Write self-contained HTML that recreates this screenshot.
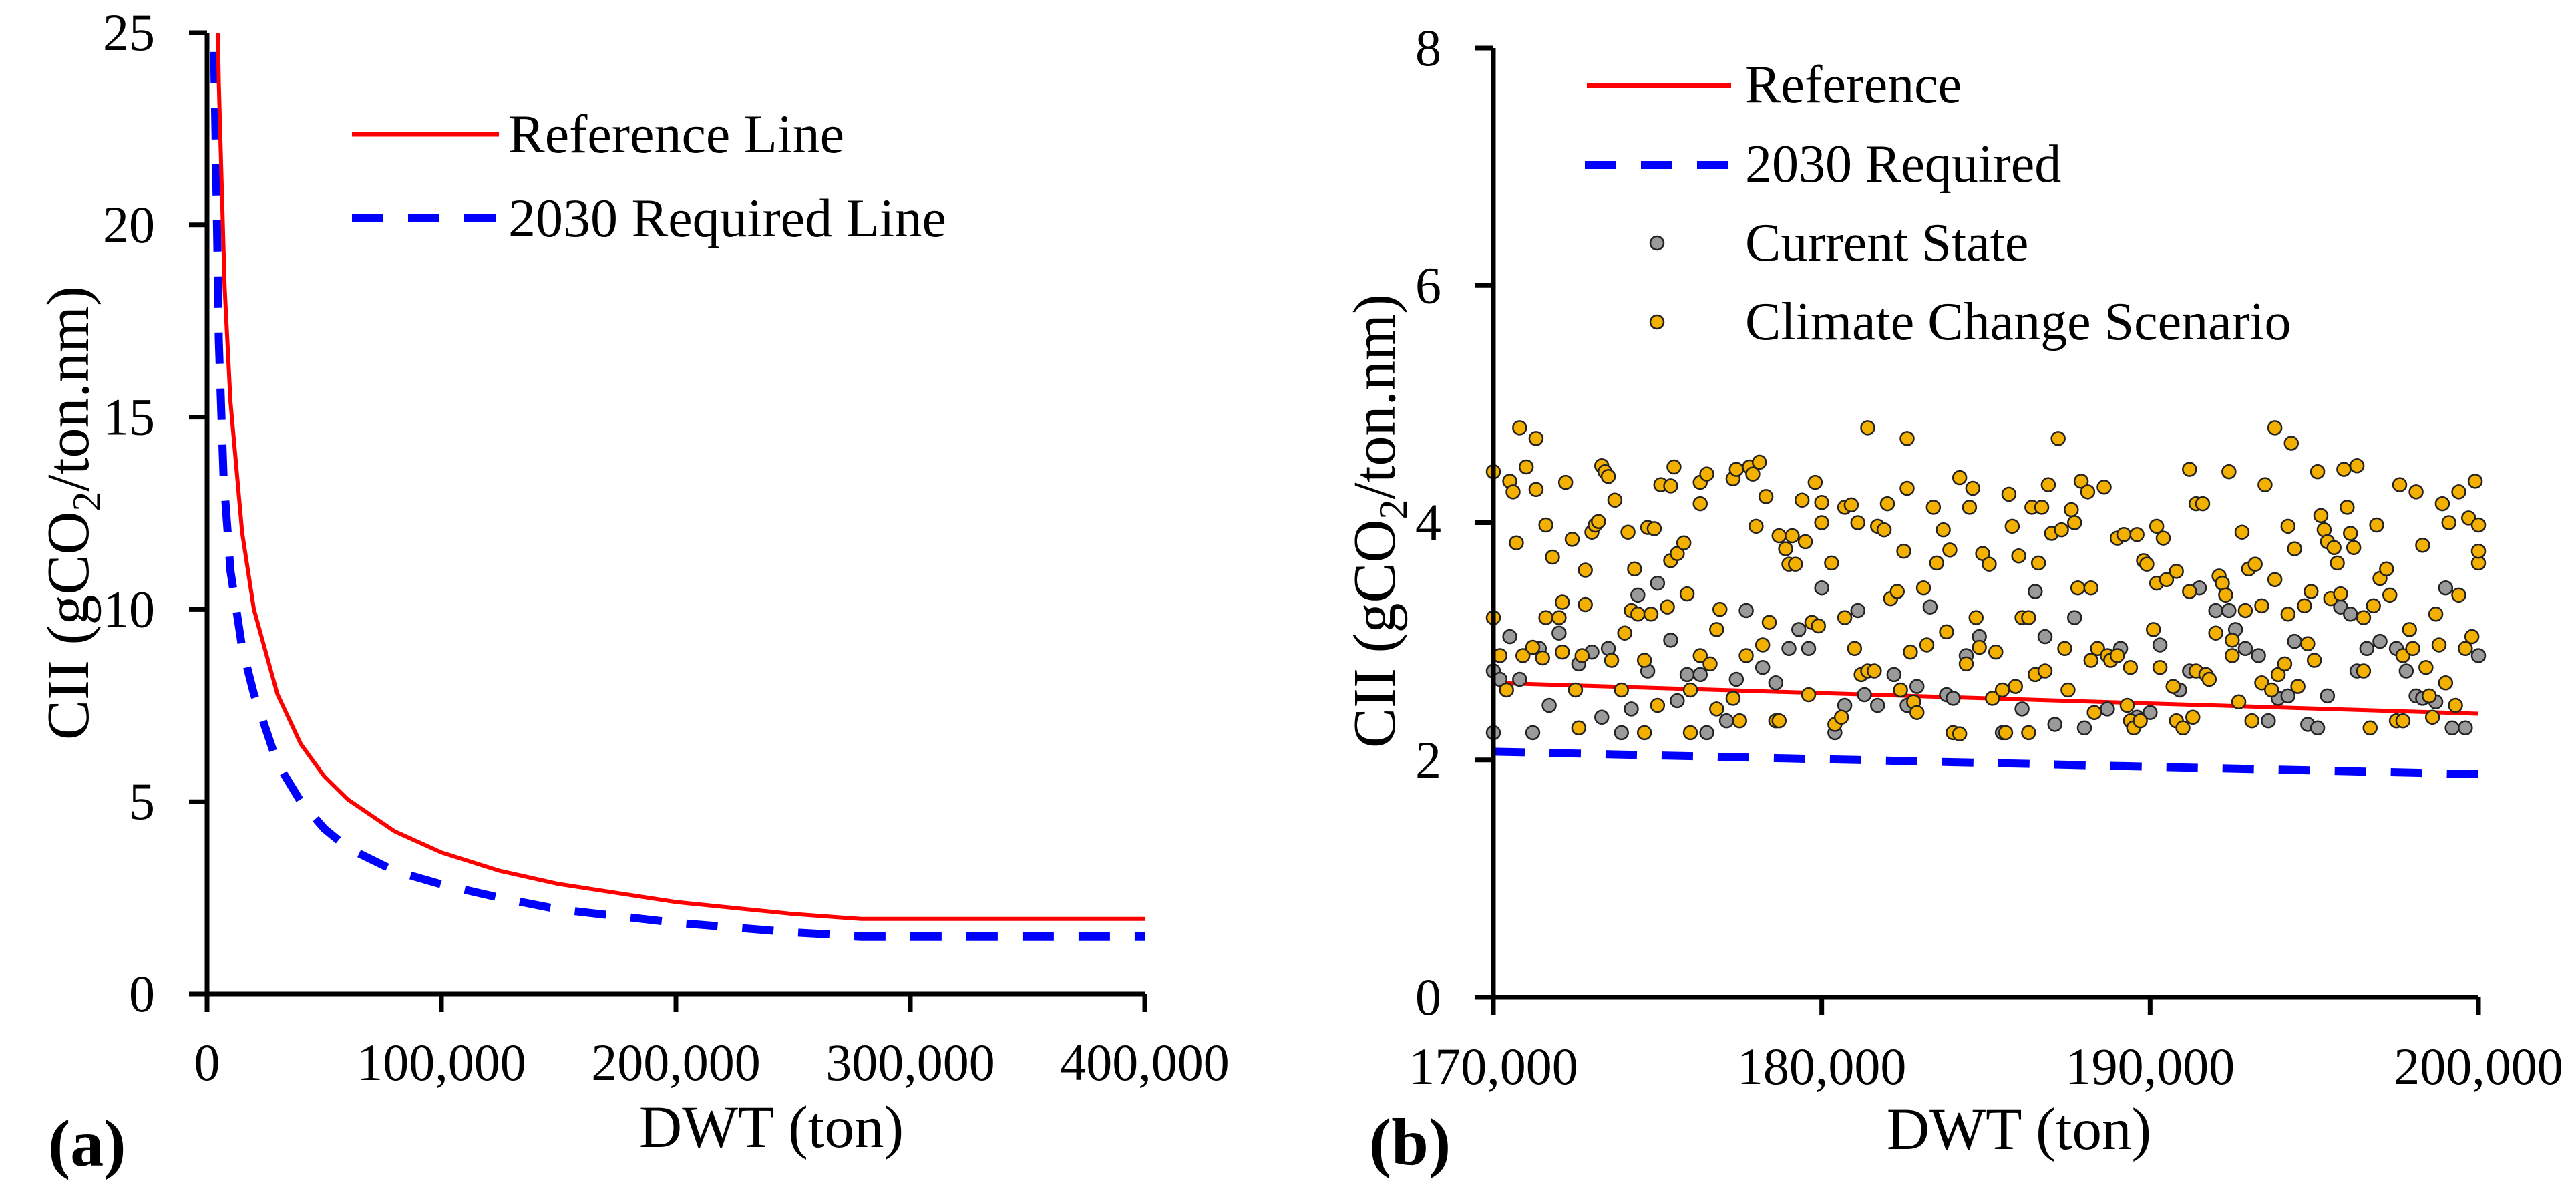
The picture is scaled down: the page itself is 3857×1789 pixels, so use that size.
<!DOCTYPE html>
<html><head><meta charset="utf-8"><style>
html,body{margin:0;padding:0;background:#fff;}
svg{display:block;font-family:"Liberation Serif",serif;}
</style></head><body>
<svg id="chart" width="3857" height="1789" viewBox="0 0 3857 1789" xmlns="http://www.w3.org/2000/svg">
<g id="pa"></g>
<g id="pb"></g>
</svg>
<script>
// Panel (a) data: DWT (ton) and CII
const refA_dwt = [4500,5000,7500,10000,15000,20000,30000,40000,50000,60000,80000,100000,125000,150000,200000,250000,279000,300000,350000,400000];
const refA_cii = [25.4,23.7,18.4,15.4,12.0,10.0,7.8,6.5,5.66,5.06,4.23,3.68,3.20,2.86,2.39,2.08,1.95,1.95,1.95,1.95];
const reqA_dwt = [3000,4000,5000,7000,10000,15000,20000,30000,40000,50000,60000,80000,100000,125000,150000,200000,250000,279000,300000,350000,400000];
const reqA_cii = [24.5,21,17,13.5,11,9,7.8,6.0,5.0,4.3,3.8,3.2,2.85,2.5,2.2,1.85,1.6,1.5,1.5,1.5,1.5];
const xTicksA = [0,100000,200000,300000,400000];
const xTickLabelsA = ["0","100,000","200,000","300,000","400,000"];
const yTicksA = [0,5,10,15,20,25];

// Panel (b) data (DWT in thousand tons)
const refB_dwt = [170,200];
const refB_cii = [2.65,2.39];
const reqB_dwt = [170,200];
const reqB_cii = [2.07,1.88];
const xTicksB = [170,180,190,200];
const xTickLabelsB = ["170,000","180,000","190,000","200,000"];
const yTicksB = [0,2,4,6,8];
const cur_dwt = [170.0,170.0,170.2,170.5,170.8,171.2,171.4,171.7,172.0,172.6,173.0,173.3,173.5,173.9,174.2,174.4,174.7,175.0,175.4,175.6,175.9,176.3,176.5,177.1,177.4,177.7,178.2,178.6,179.0,179.3,179.6,180.0,180.4,180.7,181.1,181.3,181.7,182.2,182.6,182.9,183.3,183.8,184.0,184.4,184.8,185.5,186.1,186.5,186.8,187.1,187.7,188.0,188.3,188.7,189.1,189.6,190.0,190.3,190.9,191.2,191.5,192.0,192.4,192.6,192.9,193.3,193.6,193.9,194.2,194.4,194.8,195.1,195.4,195.8,196.1,196.3,196.6,197.0,197.5,197.8,198.1,198.3,198.7,199.0,199.2,199.6,200.0];
const cur_cii = [2.23,2.75,2.68,3.04,2.68,2.23,2.94,2.46,3.07,2.81,2.91,2.36,2.94,2.23,2.43,3.39,2.75,3.49,3.01,2.50,2.72,2.72,2.23,2.33,2.68,3.26,2.78,2.65,2.94,3.10,2.94,3.45,2.23,2.46,3.26,2.55,2.46,2.72,2.46,2.62,3.29,2.55,2.52,2.88,3.04,2.23,2.43,3.42,3.04,2.30,3.20,2.27,2.40,2.43,2.94,2.36,2.40,2.97,2.59,2.75,3.45,3.26,3.26,3.10,2.94,2.88,2.33,2.52,2.54,3.00,2.30,2.27,2.54,3.29,3.23,2.75,2.94,3.00,2.94,2.75,2.54,2.52,2.49,3.45,2.27,2.27,2.88];
const clim_dwt = [170.0,170.0,170.2,170.4,170.5,170.6,170.7,170.8,170.9,171.0,171.2,171.3,171.3,171.5,171.6,171.6,171.8,172.0,172.1,172.1,172.2,172.4,172.5,172.6,172.7,172.8,172.8,173.0,173.1,173.2,173.3,173.4,173.5,173.6,173.7,173.9,174.0,174.1,174.2,174.3,174.4,174.6,174.6,174.7,174.8,174.9,175.0,175.1,175.3,175.4,175.4,175.5,175.6,175.8,175.9,176.0,176.0,176.3,176.3,176.5,176.3,176.6,176.8,176.9,176.8,177.3,177.3,177.4,177.5,177.7,177.8,177.9,178.1,178.0,178.2,178.3,178.4,178.6,178.7,178.7,178.9,179.0,179.1,179.2,179.4,179.5,179.6,179.7,179.8,179.9,180.0,180.0,180.3,180.4,180.6,180.7,180.7,180.9,181.0,181.1,181.2,181.4,181.4,181.6,181.7,181.9,182.0,182.1,182.3,182.4,182.5,182.6,182.6,182.7,182.8,182.9,183.1,183.2,183.4,183.5,183.7,183.8,183.9,184.0,184.2,184.2,184.4,184.5,184.6,184.7,184.8,184.9,185.1,185.2,185.3,185.5,185.6,185.7,185.8,185.9,186.0,186.1,186.3,186.3,186.4,186.5,186.6,186.7,186.8,186.9,187.0,187.2,187.3,187.4,187.5,187.6,187.7,187.8,187.9,188.1,188.2,188.2,188.3,188.4,188.6,188.7,188.8,189.0,189.0,189.2,189.3,189.4,189.4,189.5,189.6,189.7,189.8,189.9,190.1,190.2,190.2,190.3,190.4,190.5,190.7,190.8,190.8,191.0,191.2,191.2,191.3,191.4,191.4,191.6,191.7,191.8,192.0,192.1,192.2,192.3,192.4,192.5,192.5,192.7,192.8,192.9,193.0,193.1,193.2,193.4,193.4,193.5,193.7,193.8,193.8,193.9,194.1,194.2,194.2,194.3,194.4,194.5,194.7,194.8,194.9,195.0,195.1,195.2,195.3,195.4,195.5,195.6,195.7,195.8,195.9,196.0,196.1,196.2,196.3,196.5,196.5,196.7,196.8,196.9,197.0,197.2,197.3,197.5,197.6,197.7,197.7,197.9,198.0,198.1,198.3,198.4,198.5,198.6,198.7,198.8,198.9,199.0,199.1,199.3,199.4,199.4,199.6,199.7,199.8,199.9,200.0,200.0,200.0];
const clim_cii = [4.43,3.20,2.88,2.59,4.35,4.26,3.83,4.80,2.88,4.47,2.95,4.28,4.71,2.86,3.20,3.98,3.71,3.20,3.33,2.91,4.34,3.86,2.59,2.27,2.88,3.60,3.31,3.92,3.98,4.01,4.48,4.43,4.39,2.84,4.19,2.59,3.07,3.92,3.26,3.61,3.23,2.84,2.23,3.96,3.23,3.95,2.46,4.32,3.29,3.68,4.31,4.47,3.74,3.83,3.40,2.23,2.59,4.16,4.34,4.41,2.88,2.81,3.10,3.27,2.43,4.37,2.52,4.45,2.33,2.88,4.47,4.41,4.51,3.97,2.97,4.22,3.16,2.33,2.33,3.89,3.78,3.65,3.89,3.65,4.19,3.84,2.55,3.16,4.34,3.13,4.00,4.17,3.66,2.30,2.36,3.20,4.13,4.15,2.94,4.00,2.72,4.80,2.75,2.75,3.97,3.94,4.16,3.36,3.42,2.59,3.76,4.71,4.29,2.91,2.49,2.40,3.45,2.97,4.13,3.66,3.94,3.08,3.77,2.23,2.22,4.38,2.81,4.13,4.29,3.20,2.95,3.74,3.65,2.52,2.91,2.59,2.23,4.24,3.97,2.62,3.72,3.20,3.20,2.23,4.13,2.72,3.66,4.13,2.75,4.32,3.91,4.71,3.94,2.94,2.59,4.11,4.00,3.45,4.35,4.26,3.45,2.84,2.40,2.94,4.30,2.88,2.84,2.88,3.87,3.90,2.46,2.78,2.33,2.27,3.90,2.33,3.68,3.65,3.10,3.49,3.97,2.78,3.87,3.52,2.62,3.59,2.33,2.27,4.45,3.42,2.36,2.75,4.16,4.16,2.72,2.68,3.07,3.55,3.49,3.39,4.43,2.88,3.01,2.49,3.92,3.26,3.61,2.33,3.65,3.30,2.65,4.32,2.59,4.80,3.52,2.72,2.81,3.97,3.23,4.67,3.78,2.62,3.30,2.98,3.42,2.84,4.43,4.06,3.94,3.84,3.36,3.79,3.66,3.40,4.45,4.13,3.91,3.79,4.48,3.20,2.75,2.27,3.30,3.98,3.53,3.61,3.39,2.33,4.32,2.88,2.33,3.10,2.94,4.26,3.81,2.78,2.54,2.36,3.23,2.97,4.16,2.65,4.00,2.46,3.39,4.26,2.94,4.04,3.04,4.35,3.66,3.98,3.76];

const NS = "http://www.w3.org/2000/svg";
function mk(parent, tag, attrs, text){
  const e = document.createElementNS(NS, tag);
  for (const k in attrs) e.setAttribute(k, attrs[k]);
  if (text !== undefined) e.textContent = text;
  parent.appendChild(e);
  return e;
}
const pa = document.getElementById('pa');
const pb = document.getElementById('pb');

// ---------- Panel A ----------
const A = {x0:310, x1:1714, y0:1488, y1:49, xmin:0, xmax:400000, ymin:0, ymax:25};
const xA = v => A.x0 + (v-A.xmin)/(A.xmax-A.xmin)*(A.x1-A.x0);
const yA = v => A.y0 - (v-A.ymin)/(A.ymax-A.ymin)*(A.y0-A.y1);

const clipA = mk(pa,'clipPath',{id:'clipA'});
mk(clipA,'rect',{x:A.x0, y:A.y1, width:A.x1-A.x0+10, height:A.y0-A.y1});

let d = reqA_dwt.map((v,i)=>(i?'L':'M')+xA(v).toFixed(1)+','+yA(reqA_cii[i]).toFixed(1)).join('');
let p = mk(pa,'path',{d:d, fill:'none', stroke:'#0000ff', 'stroke-width':12, 'stroke-dasharray':'47 37', 'clip-path':'url(#clipA)'});


d = refA_dwt.map((v,i)=>(i?'L':'M')+xA(v).toFixed(1)+','+yA(refA_cii[i]).toFixed(1)).join('');
p = mk(pa,'path',{d:d, fill:'none', stroke:'#ff0000', 'stroke-width':6, 'clip-path':'url(#clipA)'});



// axes A
let ax = mk(pa,'path',{d:`M${A.x0},${A.y1}L${A.x0},${A.y0}L${A.x1},${A.y0}`, fill:'none', stroke:'#000', 'stroke-width':7});


yTicksA.forEach(v=>{
  const t = mk(pa,'line',{x1:A.x0-27, x2:A.x0, y1:yA(v), y2:yA(v), stroke:'#000', 'stroke-width':7});
  
  
  const l = mk(pa,'text',{x:232, y:yA(v)+26, 'text-anchor':'end', 'font-size':78}, String(v));
  
  
});
xTicksA.forEach((v,i)=>{
  const t = mk(pa,'line',{x1:xA(v), x2:xA(v), y1:A.y0, y2:A.y0+27, stroke:'#000', 'stroke-width':7});
  
  
  const l = mk(pa,'text',{x:xA(v), y:1617, 'text-anchor':'middle', 'font-size':78}, xTickLabelsA[i]);
  
  
});
let tt = mk(pa,'text',{x:1155, y:1717, 'text-anchor':'middle', 'font-size':89}, 'DWT (ton)');


tt = mk(pa,'text',{x:72, y:1745, 'font-size':100, 'font-weight':'bold'}, '(a)');


tt = mk(pa,'text',{transform:'translate(132,768) rotate(-90)', 'text-anchor':'middle', 'font-size':90});


tt.innerHTML = 'CII (gCO<tspan font-size="60" dy="18">2</tspan><tspan dy="-18">/ton.nm)</tspan>';

// legend A
let lg = mk(pa,'g',{});


mk(lg,'line',{x1:527,x2:747,y1:201,y2:201,stroke:'#ff0000','stroke-width':7});
let le = mk(lg,'text',{x:761,y:228,'font-size':82},'Reference Line');


mk(lg,'line',{x1:527,x2:747,y1:327,y2:327,stroke:'#0000ff','stroke-width':12,'stroke-dasharray':'47 37'});
le = mk(lg,'text',{x:761,y:354,'font-size':82},'2030 Required Line');



// ---------- Panel B ----------
const B = {x0:2236, x1:3711, y0:1493, y1:72, xmin:170, xmax:200, ymin:0, ymax:8};
const xB = v => B.x0 + (v-B.xmin)/(B.xmax-B.xmin)*(B.x1-B.x0);
const yB = v => B.y0 - (v-B.ymin)/(B.ymax-B.ymin)*(B.y0-B.y1);

p = mk(pb,'path',{d:refB_dwt.map((v,i)=>(i?'L':'M')+xB(v)+','+yB(refB_cii[i])).join(''), fill:'none', stroke:'#ff0000','stroke-width':6});


p = mk(pb,'path',{d:reqB_dwt.map((v,i)=>(i?'L':'M')+xB(v)+','+yB(reqB_cii[i])).join(''), fill:'none', stroke:'#0000ff','stroke-width':12,'stroke-dasharray':'47 37'});



const gCur = mk(pb,'g',{});


cur_dwt.forEach((v,i)=>{
  const c = mk(gCur,'circle',{cx:xB(v), cy:yB(cur_cii[i]), r:10, fill:'#9a9a9a', stroke:'#222', 'stroke-width':2.5});
  
  
});
const gCl = mk(pb,'g',{});


clim_dwt.forEach((v,i)=>{
  const c = mk(gCl,'circle',{cx:xB(v), cy:yB(clim_cii[i]), r:10, fill:'#f4b000', stroke:'#222', 'stroke-width':2.5});
  
  
});

ax = mk(pb,'path',{d:`M${B.x0},${B.y1}L${B.x0},${B.y0}L${B.x1},${B.y0}`, fill:'none', stroke:'#000','stroke-width':7});


yTicksB.forEach(v=>{
  const t = mk(pb,'line',{x1:B.x0-27,x2:B.x0,y1:yB(v),y2:yB(v),stroke:'#000','stroke-width':7});
  
  
  const l = mk(pb,'text',{x:2158,y:yB(v)+26,'text-anchor':'end','font-size':78}, String(v));
  
  
});
xTicksB.forEach((v,i)=>{
  const t = mk(pb,'line',{x1:xB(v),x2:xB(v),y1:B.y0,y2:B.y0+27,stroke:'#000','stroke-width':7});
  
  
  const l = mk(pb,'text',{x:xB(v),y:1623,'text-anchor':'middle','font-size':78}, xTickLabelsB[i]);
  
  
});
tt = mk(pb,'text',{x:3023,y:1720,'text-anchor':'middle','font-size':89},'DWT (ton)');


tt = mk(pb,'text',{x:2050,y:1743,'font-size':100,'font-weight':'bold'},'(b)');


tt = mk(pb,'text',{transform:'translate(2088,780) rotate(-90)','text-anchor':'middle','font-size':90});


tt.innerHTML = 'CII (gCO<tspan font-size="60" dy="18">2</tspan><tspan dy="-18">/ton.nm)</tspan>';

lg = mk(pb,'g',{});


mk(lg,'line',{x1:2376,x2:2592,y1:128,y2:128,stroke:'#ff0000','stroke-width':7});
le = mk(lg,'text',{x:2613,y:153,'font-size':80},'Reference');


mk(lg,'line',{x1:2373,x2:2592,y1:247,y2:247,stroke:'#0000ff','stroke-width':12,'stroke-dasharray':'47 37'});
le = mk(lg,'text',{x:2613,y:272,'font-size':80},'2030 Required');


mk(lg,'circle',{cx:2481,cy:364,r:10,fill:'#9a9a9a',stroke:'#222','stroke-width':2.5});
le = mk(lg,'text',{x:2613,y:390,'font-size':80},'Current State');


mk(lg,'circle',{cx:2481,cy:482,r:10,fill:'#f4b000',stroke:'#222','stroke-width':2.5});
le = mk(lg,'text',{x:2613,y:508,'font-size':80},'Climate Change Scenario');


</script>
</body></html>
